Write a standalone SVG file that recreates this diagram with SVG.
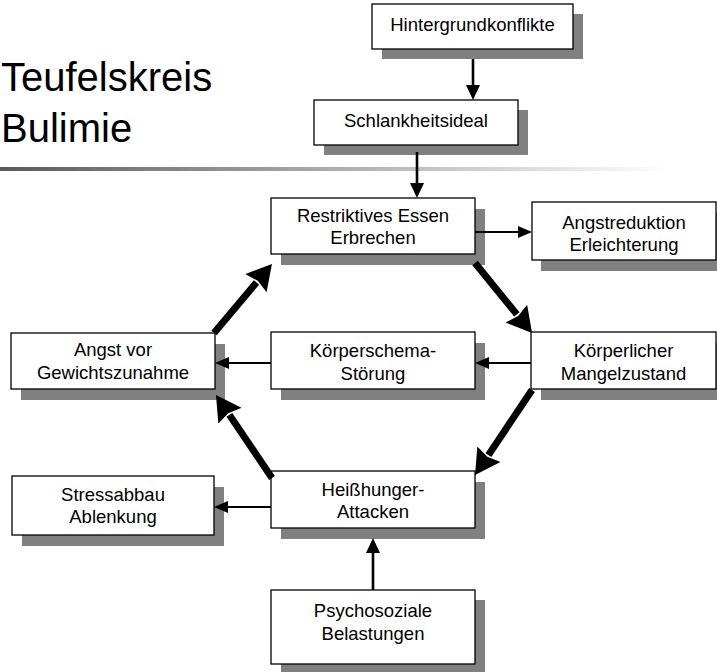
<svg xmlns="http://www.w3.org/2000/svg" width="717" height="672" viewBox="0 0 717 672">
<style>
.title{font-family:"Liberation Sans",Arial,sans-serif;font-size:40px;fill:#000}
.t{font-family:"Liberation Sans",Arial,sans-serif;font-size:18.5px;fill:#000;text-anchor:middle}
.box{fill:#fff;stroke:#000;stroke-width:1.3}
.sh{fill:#808080}
.thin{fill:none;stroke:#000;stroke-width:2}
.mid{fill:none;stroke:#000;stroke-width:2.6}
.big{fill:none;stroke:#000;stroke-width:7}
</style>
<defs>
<linearGradient id="rule" x1="0" y1="0" x2="670" y2="0" gradientUnits="userSpaceOnUse">
<stop offset="0" stop-color="#5a5a5a"/>
<stop offset="1" stop-color="#ffffff"/>
</linearGradient>
<marker id="bigHead" markerUnits="userSpaceOnUse" markerWidth="26" markerHeight="28" viewBox="0 0 26 28" refX="1" refY="14" orient="auto">
<path d="M0,0 L25,14 L0,28 L3,14 z" fill="#000"/>
</marker>
<marker id="midHead" markerUnits="userSpaceOnUse" markerWidth="15" markerHeight="14" viewBox="0 0 15 14" refX="1" refY="7" orient="auto">
<path d="M0,0 L15,7 L0,14 z" fill="#000"/>
</marker>
<marker id="smHead" markerUnits="userSpaceOnUse" markerWidth="14" markerHeight="12" viewBox="0 0 14 12" refX="1" refY="6" orient="auto">
<path d="M0,0 L14,6 L0,12 z" fill="#000"/>
</marker>
</defs>
<rect width="717" height="672" fill="#fff"/>
<g id="title">
<text class="title" x="1" y="91">Teufelskreis</text>
<text class="title" x="1" y="142">Bulimie</text>
<rect x="0" y="167" width="670" height="4" fill="url(#rule)"/>
</g>
<g id="hintergrund">
<rect class="sh" x="382" y="14" width="201" height="45"/>
<rect class="box" x="372" y="4" width="201" height="45"/>
<text class="t" x="472.5" y="31">Hintergrundkonflikte</text>
</g>
<g id="schlank">
<rect class="sh" x="324" y="110" width="204" height="45"/>
<rect class="box" x="314" y="100" width="204" height="45"/>
<text class="t" x="416" y="127">Schlankheitsideal</text>
</g>
<g id="restriktiv">
<rect class="sh" x="281" y="209" width="204" height="56"/>
<rect class="box" x="271" y="198" width="204" height="56"/>
<text class="t" x="373" y="222">Restriktives Essen</text>
<text class="t" x="373" y="244">Erbrechen</text>
</g>
<g id="angstreduktion">
<rect class="sh" x="541" y="213" width="184" height="58"/>
<rect class="box" x="532" y="202" width="184" height="58"/>
<text class="t" x="624" y="229">Angstreduktion</text>
<text class="t" x="624" y="251">Erleichterung</text>
</g>
<g id="koerperlich">
<rect class="sh" x="541" y="343" width="185" height="57"/>
<rect class="box" x="531" y="332" width="185" height="57"/>
<text class="t" x="623.5" y="357">Körperlicher</text>
<text class="t" x="623.5" y="380">Mangelzustand</text>
</g>
<g id="koerperschema">
<rect class="sh" x="281" y="343" width="204" height="57"/>
<rect class="box" x="271" y="332" width="204" height="57"/>
<text class="t" x="373" y="357">Körperschema-</text>
<text class="t" x="373" y="380">Störung</text>
</g>
<g id="angst">
<rect class="sh" x="21" y="344" width="204" height="56"/>
<rect class="box" x="11" y="333" width="204" height="56"/>
<text class="t" x="113" y="356">Angst vor</text>
<text class="t" x="113" y="379">Gewichtszunahme</text>
</g>
<g id="heisshunger">
<rect class="sh" x="281" y="482" width="204" height="57"/>
<rect class="box" x="271" y="471" width="204" height="57"/>
<text class="t" x="373" y="496">Heißhunger-</text>
<text class="t" x="373" y="518">Attacken</text>
</g>
<g id="stress">
<rect class="sh" x="22" y="487" width="202" height="59"/>
<rect class="box" x="12" y="476" width="202" height="59"/>
<text class="t" x="113" y="501">Stressabbau</text>
<text class="t" x="113" y="523">Ablenkung</text>
</g>
<g id="psychosozial">
<rect class="sh" x="281" y="600" width="204" height="74"/>
<rect class="box" x="271" y="590" width="204" height="74"/>
<text class="t" x="373" y="617">Psychosoziale</text>
<text class="t" x="373" y="640">Belastungen</text>
</g>
<g id="connectors">
<path class="mid" d="M473,59 L473,86" marker-end="url(#midHead)"/>
<path class="mid" d="M417,152 L417,184" marker-end="url(#midHead)"/>
<path class="thin" d="M475,232 L519,232" marker-end="url(#smHead)"/>
<path class="thin" d="M531,363 L488,363" marker-end="url(#smHead)"/>
<path class="thin" d="M271,363 L228,363" marker-end="url(#smHead)"/>
<path class="thin" d="M271,507 L227,507" marker-end="url(#smHead)"/>
<path class="mid" d="M373,590 L373,552" marker-end="url(#midHead)"/>
<path class="big" d="M214,333 L256.5,282.4" marker-end="url(#bigHead)"/>
<path class="big" d="M475,263 L516.9,314.4" marker-end="url(#bigHead)"/>
<path class="big" d="M532,390 L488.4,455.1" marker-end="url(#bigHead)"/>
<path class="big" d="M272,478 L229.4,414.9" marker-end="url(#bigHead)"/>
</g>
</svg>
